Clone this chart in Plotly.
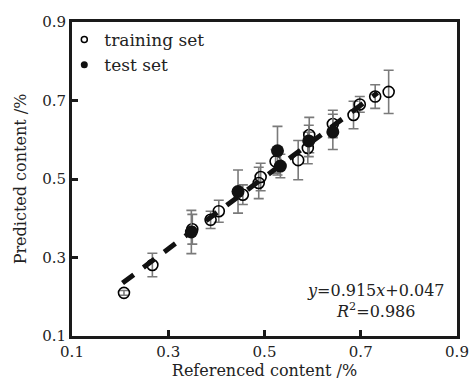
import plotly.graph_objects as go

# Training set (open circles)
train_x = [0.208, 0.267, 0.350, 0.388, 0.405, 0.455, 0.488, 0.492, 0.523, 0.570, 0.590, 0.593, 0.642, 0.685, 0.698, 0.730, 0.758]
train_y = [0.210, 0.281, 0.372, 0.396, 0.418, 0.460, 0.490, 0.505, 0.545, 0.548, 0.579, 0.612, 0.640, 0.663, 0.690, 0.710, 0.722]
train_err = [0.006, 0.030, 0.038, 0.022, 0.028, 0.025, 0.040, 0.035, 0.030, 0.050, 0.040, 0.045, 0.035, 0.035, 0.020, 0.030, 0.055]

# Test set (filled circles)
test_x = [0.348, 0.445, 0.527, 0.533, 0.592, 0.642]
test_y = [0.365, 0.468, 0.572, 0.533, 0.597, 0.620]
test_err = [0.055, 0.055, 0.062, 0.030, 0.040, 0.045]

# Fitted line endpoints (y = 0.915x + 0.047)
fit_x = [0.205, 0.735]
fit_y = [0.235, 0.720]

tick_vals = [0.1, 0.3, 0.5, 0.7, 0.9]
tick_text = ["0.1", "0.3", "0.5", "0.7", "0.9"]

FONT = "DejaVu Serif, serif"
ERR_COLOR = "#7a7a7a"

fig = go.Figure()

fig.add_trace(go.Scatter(
    x=train_x, y=train_y, mode="markers", showlegend=False,
    marker=dict(symbol="circle-open", size=11, color="black", line=dict(width=1.6)),
    error_y=dict(type="data", array=train_err, color=ERR_COLOR, thickness=1.6, width=5),
))
fig.add_trace(go.Scatter(
    x=test_x, y=test_y, mode="markers", showlegend=False,
    marker=dict(symbol="circle", size=13, color="#111111"),
    error_y=dict(type="data", array=test_err, color=ERR_COLOR, thickness=1.6, width=5),
))
fig.add_trace(go.Scatter(
    x=fit_x, y=fit_y, mode="lines", showlegend=False,
    line=dict(color="#111111", width=5, dash="14px,12px"),
))

# legend entries
fig.add_trace(go.Scatter(
    x=[None], y=[None], mode="markers", name="training set",
    marker=dict(symbol="circle-open", size=6, color="black", line=dict(width=1.5)),
))
fig.add_trace(go.Scatter(
    x=[None], y=[None], mode="markers", name="test set",
    marker=dict(symbol="circle", size=7, color="#111111"),
))

axis_common = dict(
    range=[0.1, 0.9], tickvals=tick_vals, ticktext=tick_text,
    showline=True, linecolor="#1a1a1a", linewidth=3, mirror=True,
    ticks="inside", ticklen=6, tickwidth=2.5, tickcolor="#1a1a1a",
    showgrid=False, zeroline=False, automargin=False,
    tickfont=dict(family=FONT, size=15, color="#222222"),
)

fig.update_layout(
    width=475, height=383,
    margin=dict(l=72, r=18, t=22, b=47),
    paper_bgcolor="white", plot_bgcolor="white",
    font=dict(family=FONT, color="#222222"),
    xaxis=dict(**axis_common,
               title=dict(text="Referenced content /%", standoff=2,
                          font=dict(family=FONT, size=16, color="#222222"))),
    yaxis=dict(**axis_common,
               title=dict(text="Predicted content /%", standoff=12,
                          font=dict(family=FONT, size=16, color="#222222"))),
    legend=dict(x=-0.02, y=1.0, xanchor="left", yanchor="top",
                bgcolor="rgba(0,0,0,0)", tracegroupgap=0, itemwidth=30,
                font=dict(family=FONT, size=17, color="#222222")),
    annotations=[dict(
        xref="paper", yref="paper", x=0.79, y=0.04, xanchor="center", yanchor="bottom",
        text="<i>y</i>=0.915<i>x</i>+0.047<br><i>R</i><sup>2</sup>=0.986",
        showarrow=False, align="center",
        font=dict(family=FONT, size=16, color="#222222"),
    )],
)

fig.write_html("out.html", config={"displayModeBar": False},
               post_script="document.body.style.margin='0px';document.body.style.overflow='hidden';")
